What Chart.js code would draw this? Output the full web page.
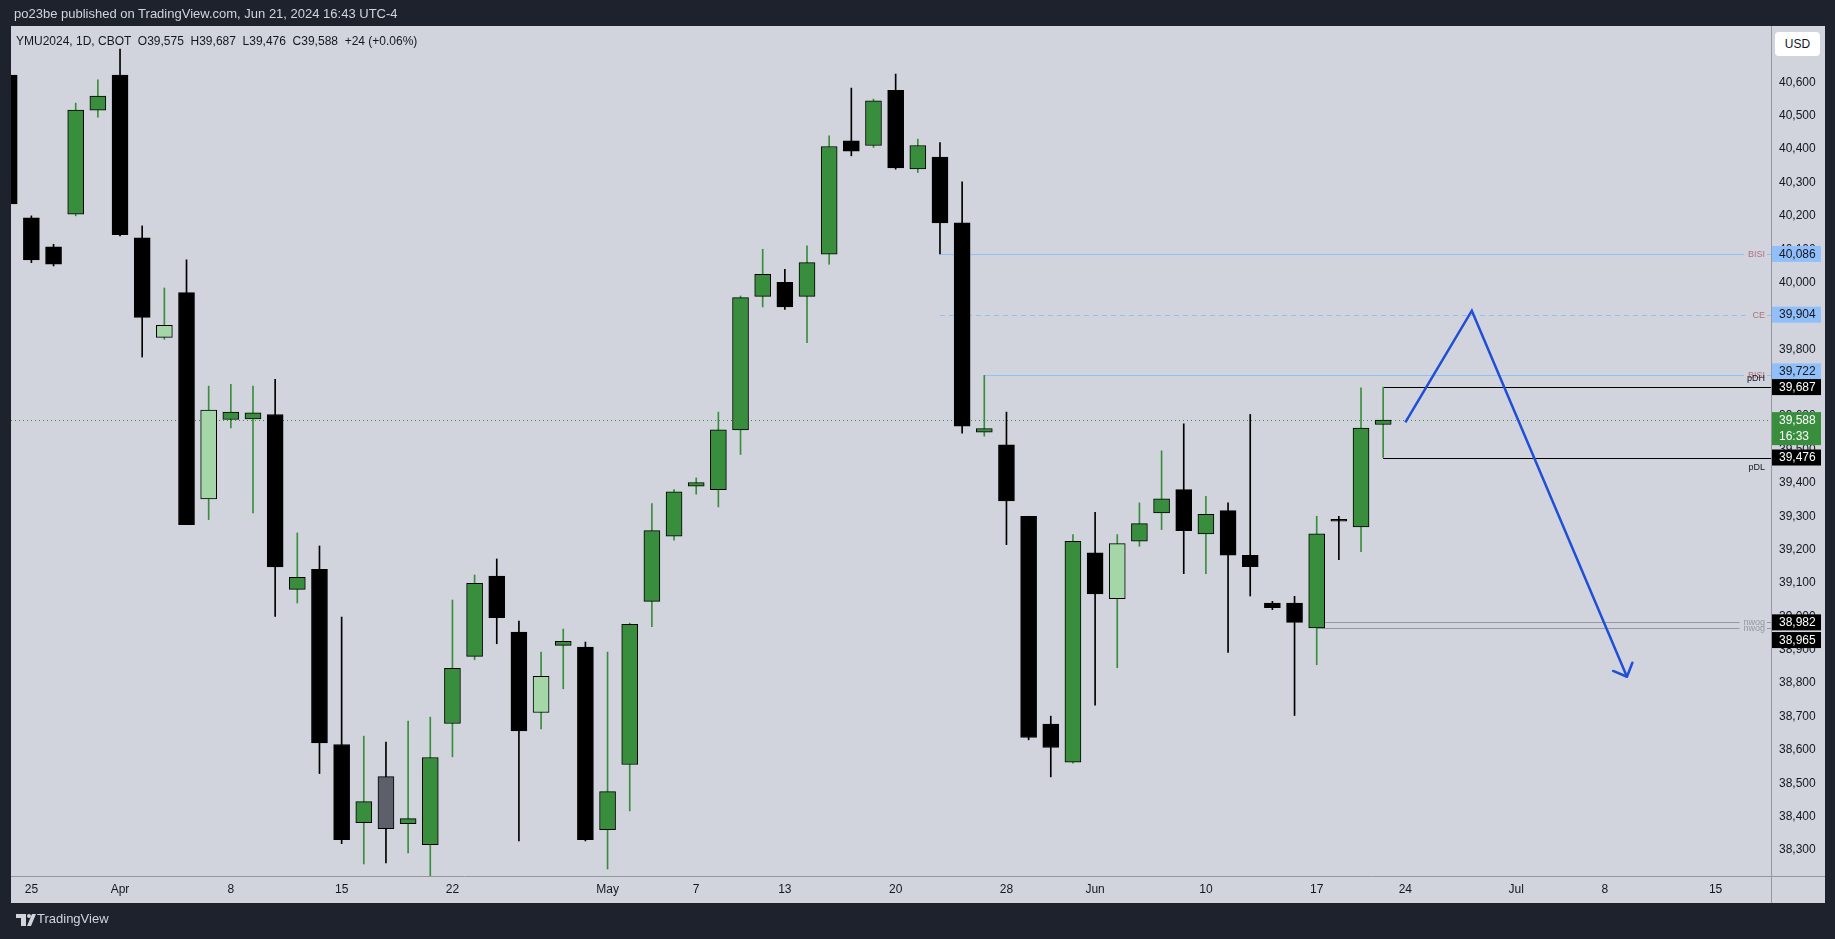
<!DOCTYPE html>
<html>
<head>
<meta charset="utf-8">
<title>YMU2024, 1D, CBOT</title>
<script src="https://cdn.jsdelivr.net/npm/chart.js@4.4.1/dist/chart.umd.min.js"></script>
<style>
  html, body { margin: 0; padding: 0; background: #1e222d; }
  #wrap { position: relative; width: 1835px; height: 939px; overflow: hidden; }
  #wrap canvas { position: absolute; left: 0; top: 0; }
  .txt { position: absolute; white-space: pre; font-family: "Liberation Sans", Arial, sans-serif; }
  #title { left: 14px; top: 6px; font-size: 13px; color: #d1d4dc; }
  #legend { left: 16px; top: 34px; font-size: 12px; color: #131722; }
  #usd { left: 1775px; top: 32px; width: 45px; height: 24px; line-height: 24px; text-align: center;
         background: #ffffff; border-radius: 4px; font-size: 12px; color: #131722; }
  #brand { left: 37px; top: 911px; font-size: 13px; color: #d1d4dc; }
</style>
</head>
<body>
<div id="wrap">
  <canvas id="chart"></canvas>
  <div id="title" class="txt">po23be published on TradingView.com, Jun 21, 2024 16:43 UTC-4</div>
  <div id="legend" class="txt"></div>
  <div id="usd" class="txt">USD</div>
  <div id="brand" class="txt">TradingView</div>
</div>
<script>
// Daily bars, Mar 22 - Jun 21 2024
const days = ["Mar 22", "Mar 25", "Mar 26", "Mar 27", "Mar 28", "Apr 1", "Apr 2", "Apr 3", "Apr 4", "Apr 5",
  "Apr 8", "Apr 9", "Apr 10", "Apr 11", "Apr 12", "Apr 15", "Apr 16", "Apr 17", "Apr 18", "Apr 19",
  "Apr 22", "Apr 23", "Apr 24", "Apr 25", "Apr 26", "Apr 29", "Apr 30", "May 1", "May 2", "May 3",
  "May 6", "May 7", "May 8", "May 9", "May 10", "May 13", "May 14", "May 15", "May 16", "May 17",
  "May 20", "May 21", "May 22", "May 23", "May 24", "May 28", "May 29", "May 30", "May 31", "Jun 3",
  "Jun 4", "Jun 5", "Jun 6", "Jun 7", "Jun 10", "Jun 11", "Jun 12", "Jun 13", "Jun 14", "Jun 17",
  "Jun 18", "Jun 20", "Jun 21"];
const opens = [40622, 40194, 40107, 40205, 40517, 40622, 40134, 39836, 39970, 39352,
  39590, 39592, 39605, 39081, 39141, 38616, 38382, 38520, 38379, 38316,
  38679, 38880, 39121, 38953, 38712, 38913, 38908, 38361, 38556, 39045,
  39240, 39390, 39380, 39559, 39959, 40001, 39959, 40085, 40425, 40411,
  40576, 40341, 40376, 40179, 39552, 39514, 39300, 38677, 38563, 39190,
  39053, 39225, 39310, 39380, 39247, 39317, 39183, 39040, 39040, 38965,
  39290, 39268, 39575];
const highs = [40640, 40200, 40115, 40538, 40608, 40700, 40170, 39984, 40068, 39690,
  39695, 39690, 39710, 39250, 39211, 38998, 38641, 38623, 38686, 38698,
  39049, 39124, 39172, 38986, 38893, 38962, 38923, 38893, 38980, 39338,
  39380, 39415, 39612, 39960, 40100, 40040, 40110, 40440, 40583, 40550,
  40625, 40430, 40420, 40302, 39722, 39612, 39300, 38701, 39245, 39312,
  39245, 39340, 39496, 39577, 39360, 39340, 39605, 39045, 39060, 39300,
  39300, 39685, 39687];
const lows = [40220, 40060, 40050, 40200, 40496, 40140, 39777, 39830, 39275, 39290,
  39565, 39310, 39000, 39040, 38529, 38319, 38258, 38261, 38291, 38221,
  38579, 38870, 38918, 38327, 38663, 38783, 38327, 38243, 38417, 38969,
  39228, 39366, 39328, 39485, 39927, 39920, 39820, 40055, 40380, 40405,
  40340, 40330, 40086, 39549, 39540, 39215, 38630, 38519, 38560, 38734,
  38846, 39210, 39260, 39128, 39128, 38892, 39061, 39020, 38703, 38855,
  39170, 39194, 39476];
const closes = [40236, 40068, 40055, 40517, 40559, 40144, 39896, 39872, 39275, 39618,
  39612, 39610, 39148, 39117, 38621, 38331, 38445, 38364, 38394, 38577,
  38844, 39099, 38996, 38657, 38820, 38925, 38331, 38475, 38976, 39257,
  39373, 39401, 39559, 39955, 40025, 39927, 40060, 40408, 40394, 40545,
  40344, 40411, 40179, 39570, 39563, 39346, 38637, 38607, 39225, 39067,
  39218, 39278, 39352, 39257, 39306, 39183, 39149, 39026, 38982, 39247,
  39285, 39564, 39588];

// time axis labels (bar index -> text), future bars continue the index
const tickIndex = [1, 5, 10, 15, 20, 27, 31, 35, 40, 45, 49, 54, 59, 63, 68, 72, 77];
const tickText = ["25", "Apr", "8", "15", "22", "May", "7", "13", "20", "28", "Jun", "10", "17", "24", "Jul", "8", "15"];

// horizontal levels drawn on the chart
const levelNames = ["BISI", "CE", "BISI", "pDH", "pDL", "nwog", "nwog"];
const levelPrices = [40086, 39904, 39722, 39687, 39476, 38982, 38965];
const levelStart = [42, 42, 44, 62, 62, 59, 59];

// hand drawn projection path
const pathX = [63, 66, 73];
const pathY = [39581, 39916, 38819];

const countdown = "16:33";

// candles that TradingView coloured differently
const paleBars = [7, 9, 24, 50];
const grayBars = [17];

const GREEN = "#388e3c";
const BLUE_LVL = "#90bff9";
const fmt = (v) => Math.round(v).toLocaleString("en-US");
const FONT = '"Liberation Sans", Arial, sans-serif';

const last = closes.length - 1;
const change = closes[last] - closes[last - 1];
document.getElementById("legend").textContent =
  "YMU2024, 1D, CBOT  O" + fmt(opens[last]) + "  H" + fmt(highs[last]) + "  L" + fmt(lows[last]) +
  "  C" + fmt(closes[last]) + "  " + (change >= 0 ? "+" : "") + change +
  " (" + (change >= 0 ? "+" : "") + (change / closes[last - 1] * 100).toFixed(2) + "%)";

const bodies = days.map((d, i) => ({ x: i, y: [opens[i], closes[i]] }));
const wicks = days.map((d, i) => ({ x: i, y: [lows[i], highs[i]] }));
const bodyColors = days.map((d, i) => {
  if (grayBars.includes(i)) return "#5d606b";
  if (paleBars.includes(i)) return "#a5d6a7";
  return closes[i] >= opens[i] ? GREEN : "#000000";
});
const wickColors = days.map((d, i) => (closes[i] >= opens[i] && !grayBars.includes(i)) ? GREEN : "#000000");
const path = pathX.map((x, i) => ({ x: x, y: pathY[i] }));

const levelStyle = {
  "BISI": { color: BLUE_LVL, dash: [], text: "#b0707c", place: "on" },
  "CE": { color: BLUE_LVL, dash: [5, 4], text: "#b0707c", place: "on" },
  "pDH": { color: "#000000", dash: [], text: "#131722", place: "above" },
  "pDL": { color: "#000000", dash: [], text: "#131722", place: "below" },
  "nwog": { color: "#9598a1", dash: [], text: "#9598a1", place: "on" }
};

// price tags on the right scale
const tags = [
  { price: levelPrices[0], bg: BLUE_LVL, fg: "#131722" },
  { price: levelPrices[1], bg: BLUE_LVL, fg: "#131722" },
  { price: levelPrices[2], bg: BLUE_LVL, fg: "#131722", nudge: -4 },
  { price: levelPrices[3], bg: "#000000", fg: "#ffffff" },
  { price: closes[last], bg: GREEN, fg: "#ffffff", sub: countdown },
  { price: levelPrices[4], bg: "#000000", fg: "#ffffff" },
  { price: levelPrices[5], bg: "#000000", fg: "#ffffff" },
  { price: levelPrices[6], bg: "#000000", fg: "#ffffff", nudge: 12 }
];

const overlay = {
  id: "overlay",
  beforeDraw(chart) {
    const { ctx, chartArea: a } = chart;
    ctx.save();
    ctx.fillStyle = "#1e222d";
    ctx.fillRect(0, 0, chart.width, chart.height);
    ctx.fillStyle = "#d1d4dc";
    ctx.fillRect(a.left, a.top, chart.scales.y.right - a.left, chart.scales.x.bottom - a.top);
    ctx.restore();
  },
  beforeDatasetsDraw(chart) {
    const { ctx, chartArea: a, scales: { x, y } } = chart;
    ctx.save();
    ctx.beginPath();
    ctx.rect(a.left, a.top, a.right - a.left, a.bottom - a.top);
    ctx.clip();
    // current price dotted line
    const py = Math.round(y.getPixelForValue(closes[last])) + 0.5;
    ctx.strokeStyle = GREEN;
    ctx.lineWidth = 1;
    ctx.setLineDash([1, 3]);
    ctx.beginPath();
    ctx.moveTo(a.left, py);
    ctx.lineTo(a.right, py);
    ctx.stroke();

    ctx.font = "9px " + FONT;
    ctx.textBaseline = "middle";
    ctx.textAlign = "right";
    const textRight = a.right - 6;
    levelPrices.forEach((p, i) => {
      const st = levelStyle[levelNames[i]];
      const ly = Math.round(y.getPixelForValue(p)) + 0.5;
      const lx = x.getPixelForValue(levelStart[i]);
      const tw = ctx.measureText(levelNames[i]).width;
      ctx.strokeStyle = st.color;
      ctx.setLineDash(st.dash);
      ctx.beginPath();
      if (st.place === "on") {
        ctx.moveTo(lx, ly);
        ctx.lineTo(textRight - tw - 4, ly);
        ctx.moveTo(textRight + 2, ly);
        ctx.lineTo(a.right, ly);
      } else {
        ctx.moveTo(lx, ly);
        ctx.lineTo(a.right, ly);
      }
      ctx.stroke();
      ctx.fillStyle = st.text;
      const off = st.place === "above" ? -9 : st.place === "below" ? 9 : 0;
      ctx.fillText(levelNames[i], textRight, ly + off);
    });
    ctx.restore();
  },
  afterDatasetsDraw(chart) {
    const { ctx, scales: { x, y } } = chart;
    // arrow head at the end of the projection
    const n = pathX.length - 1;
    const tx = x.getPixelForValue(pathX[n]), ty = y.getPixelForValue(pathY[n]);
    const fx = x.getPixelForValue(pathX[n - 1]), fy = y.getPixelForValue(pathY[n - 1]);
    const ang = Math.atan2(fy - ty, fx - tx);
    ctx.save();
    ctx.strokeStyle = "#1f4fd6";
    ctx.lineWidth = 2.5;
    ctx.lineCap = "round";
    ctx.beginPath();
    [-0.77, 0.77].forEach((d) => {
      ctx.moveTo(tx, ty);
      ctx.lineTo(tx + 15 * Math.cos(ang + d), ty + 15 * Math.sin(ang + d));
    });
    ctx.stroke();
    ctx.restore();
  },
  afterDraw(chart) {
    const { ctx, chartArea: a, scales: { x, y } } = chart;
    ctx.save();
    // pane separators
    ctx.strokeStyle = "#9598a1";
    ctx.lineWidth = 1;
    ctx.beginPath();
    ctx.moveTo(a.left, Math.round(a.bottom) + 0.5);
    ctx.lineTo(y.right, Math.round(a.bottom) + 0.5);
    ctx.moveTo(Math.round(a.right) + 0.5, a.top);
    ctx.lineTo(Math.round(a.right) + 0.5, x.bottom);
    ctx.stroke();

    // price tags
    ctx.font = "12px " + FONT;
    ctx.textBaseline = "middle";
    ctx.textAlign = "left";
    tags.forEach((t) => {
      const ty = y.getPixelForValue(t.price) + (t.nudge || 0);
      const h = t.sub ? 33 : 16;
      ctx.fillStyle = t.bg;
      ctx.fillRect(a.right + 1, ty - 8, 49, h);
      ctx.fillStyle = t.fg;
      ctx.fillText(fmt(t.price), a.right + 8, ty + 0.5);
      if (t.sub) ctx.fillText(t.sub, a.right + 8, ty + 16.5);
    });

    // TradingView mark in the footer
    ctx.fillStyle = "#d1d4dc";
    ctx.fillRect(16, 914, 10, 4);
    ctx.fillRect(21, 914, 5, 12);
    ctx.beginPath();
    ctx.arc(29, 916, 2, 0, Math.PI * 2);
    ctx.fill();
    ctx.beginPath();
    ctx.moveTo(32, 914);
    ctx.lineTo(36, 914);
    ctx.lineTo(31, 926);
    ctx.lineTo(27, 926);
    ctx.closePath();
    ctx.fill();
    ctx.restore();
  }
};

Chart.defaults.font.family = FONT;

new Chart(document.getElementById("chart"), {
  type: "bar",
  data: {
    datasets: [
      {
        type: "line",
        data: path,
        borderColor: "#1f4fd6",
        borderWidth: 2.5,
        pointRadius: 0,
        tension: 0,
        order: 0
      },
      {
        data: bodies,
        backgroundColor: bodyColors,
        borderColor: "#000000",
        borderWidth: 1,
        borderSkipped: false,
        barThickness: 16,
        minBarLength: 2,
        grouped: false,
        order: 1
      },
      {
        data: wicks,
        backgroundColor: wickColors,
        borderWidth: 0,
        barThickness: 1,
        grouped: false,
        order: 2
      }
    ]
  },
  options: {
    responsive: true,
    maintainAspectRatio: false,
    animation: false,
    events: [],
    layout: { padding: { left: 11, top: 26, right: 10, bottom: 36 } },
    plugins: { legend: { display: false }, tooltip: { enabled: false } },
    scales: {
      x: {
        type: "linear",
        min: 0.08,
        max: 79.5,
        offset: false,
        grid: { display: false, drawTicks: false },
        border: { display: false },
        afterBuildTicks: (scale) => {
          scale.ticks = tickIndex.map((v) => ({ value: v }));
        },
        afterFit: (scale) => { scale.height = 27; },
        ticks: {
          autoSkip: false,
          maxRotation: 0,
          padding: 6,
          color: "#131722",
          font: { size: 12 },
          callback: (v) => tickText[tickIndex.indexOf(v)]
        }
      },
      y: {
        position: "right",
        min: 38222,
        max: 40769,
        grid: { display: false, drawTicks: false },
        border: { display: false },
        afterBuildTicks: (scale) => {
          scale.ticks = scale.ticks.filter((t) => t.value >= 38300 && t.value <= 40600);
        },
        afterFit: (scale) => { scale.width = 54; },
        ticks: {
          stepSize: 100,
          includeBounds: false,
          padding: 8,
          color: "#131722",
          font: { size: 12 },
          callback: (v) => fmt(v)
        }
      }
    }
  },
  plugins: [overlay]
});
</script>
</body>
</html>
